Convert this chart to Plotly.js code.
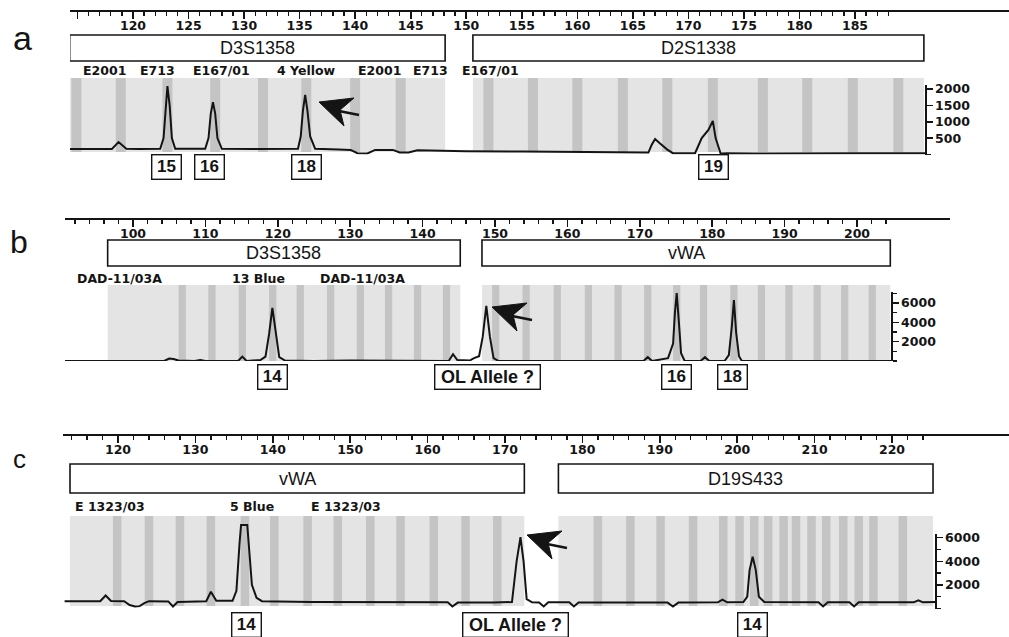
<!DOCTYPE html>
<html><head><meta charset="utf-8">
<script src="https://cdn.plot.ly/plotly-3.0.1.min.js"></script>
<style>html,body{margin:0;padding:0;background:#fff}#chart{width:1009px;height:637px}</style>
</head><body><div id="chart"></div>
<script>
// ================= DATA =================
// ---- Panel a ----
const aTraceBp  = [114.3,116.0,118.1,118.7,119.4,120.5,122.45,122.75,122.95,123.1,123.3,123.5,123.8,126.5,126.8,127.0,127.2,127.4,127.6,128.0,131.0,134.85,135.1,135.3,135.5,135.7,135.95,136.4,138.5,139.6,140.2,141.1,141.8,143.4,144.0,144.8,145.6,150.0,155.0,160.0,165.0,166.4,166.7,167.0,167.4,168.1,168.6,170.6,171.2,171.8,172.2,172.45,172.9,173.5,176.0,180.0,185.0,191.3];
const aTraceRfu = [170,165,170,380,175,170,175,500,1500,2090,1500,500,175,175,500,1250,1600,1250,500,175,165,175,550,1350,1820,1350,550,175,150,140,40,30,140,140,60,60,130,100,90,70,60,60,300,470,350,150,40,40,500,750,1025,500,30,40,30,40,40,40];
const aMarkers     = ['D3S1358','D2S1338'];
const aMarkerStart = [114.3,150.6];
const aMarkerEnd   = [148.1,191.2];
const aBins        = [114.9,118.9,123.1,127.4,131.7,135.6,140.0,144.1,152.0,156.0,160.0,164.1,168.1,172.2,176.7,180.7,184.8,188.9];
const aAlleleText  = ['15','16','18','19'];
const aAlleleBp    = [123.0,126.9,135.6,172.25];
const aSampleText  = ['E2001','E713','E167/01','4 Yellow','E2001','E713','E167/01'];
const aXTicks      = [115,120,125,130,135,140,145,150,155,160,165,170,175,180,185];
const aYTicks      = [500,1000,1500,2000];
const aYMinor      = [0];

// ---- Panel b ----
const bTraceBp  = [90.6,100.0,104.3,105.0,105.6,106.3,108.5,109.3,110.0,114.5,115.1,115.7,117.6,118.3,118.8,119.25,119.7,120.2,121.0,125.0,130.0,136.0,140.0,143.6,144.2,144.8,146.5,147.1,147.8,148.3,148.8,149.3,149.8,150.5,160.0,170.5,171.1,171.7,173.9,174.6,174.85,175.1,175.4,175.7,176.2,178.4,179.0,179.6,181.7,182.3,182.7,183.0,183.3,183.7,184.1,190.0,204.7];
const bTraceRfu = [0,0,0,250,200,50,0,100,0,0,450,0,100,450,2800,5500,2800,400,50,0,50,0,0,0,700,100,50,300,500,2500,5700,2500,300,0,0,0,400,0,300,1800,5000,7050,4000,800,0,0,400,0,0,600,3500,6320,3000,500,0,0,0];
const bMarkers     = ['D3S1358','vWA'];
const bMarkerStart = [96.5,148.2];
const bMarkerEnd   = [145.2,204.6];
const bBins        = [106.8,110.9,115.1,119.3,123.1,127.3,131.4,135.3,139.3,143.3,150.1,154.3,158.6,162.9,167.0,171.1,175.1,178.8,183.0,186.8,190.6,194.5,198.3,202.1];
const bAlleleText  = ['14','OL Allele ?','16','18'];
const bAlleleBp    = [119.25,148.9,175.1,182.8];
const bSampleText  = ['DAD-11/03A','13 Blue','DAD-11/03A'];
const bXTicks      = [90,100,110,120,130,140,150,160,170,180,190,200];
const bYTicks      = [2000,4000,6000];
const bYMinor      = [0,1000,3000,5000,7000];

// ---- Panel c ----
const cTraceBp  = [113.1,117.7,118.4,119.1,120.8,121.5,122.2,122.8,123.4,124.0,126.5,127.1,127.7,131.4,132.0,132.7,134.8,135.3,135.7,135.9,136.7,136.9,137.3,137.9,138.6,145.0,152.0,157.0,162.6,163.2,163.9,168.5,170.9,171.5,172.0,172.4,172.8,173.5,174.4,175.0,175.6,178.3,178.9,179.5,191.0,191.7,192.4,197.5,198.1,198.7,200.8,201.3,201.6,202.0,202.4,202.8,203.5,210.5,211.1,211.7,214.5,215.1,215.7,222.8,223.4,224.0,225.7];
const cTraceRfu = [620,620,1100,640,620,300,170,200,450,620,600,170,550,620,1420,650,650,1500,5500,7080,7080,5500,2000,900,620,560,560,520,520,170,500,500,550,4000,6050,4000,800,520,500,170,520,520,170,500,500,170,500,520,750,520,550,1000,3250,4390,3250,1000,550,520,170,520,520,170,520,520,700,520,550];
const cMarkers     = ['vWA','D19S433'];
const cMarkerStart = [113.8,176.9];
const cMarkerEnd   = [172.5,225.3];
const cBins        = [119.9,124.0,128.0,132.0,136.4,140.2,144.5,148.4,152.6,156.5,160.8,164.9,169.0,182.0,186.2,190.1,194.3,198.2,200.3,202.2,204.0,206.0,207.6,209.6,211.5,213.7,215.7,217.6,221.4];
const cAlleleText  = ['14','OL Allele ?','14'];
const cAlleleBp    = [136.6,171.4,202.0];
const cSampleText  = ['E 1323/03','5 Blue','E 1323/03'];
const cXTicks      = [120,130,140,150,160,170,180,190,200,210,220];
const cYTicks      = [2000,4000,6000];
const cYMinor      = [0,1000,3000,5000];

const panelLetters = ['a','b','c'];

// ================= LAYOUT GEOMETRY (pixels) =================
const W = 1009, H = 637;
const px2x = p => p / W;
const py2y = p => 1 - p / H;

const panels = [
  { letter:panelLetters[0], letterPx:[22,38], letterSize:34,
    bp:aTraceBp, rfu:aTraceRfu, markers:aMarkers, mStart:aMarkerStart, mEnd:aMarkerEnd, bins:aBins, binW:0.9,
    alleleText:aAlleleText, alleleBp:aAlleleBp, sampleText:aSampleText, samplePx:[104,157,221,306,379,430,490], samplePy:71,
    xTicks:aXTicks, minorStep:1, minorFrom:115, minorTo:188,
    refBp:120, refPx:133, pxPerBp:11.108, xDom:[70,1009], axisPy:10,
    zeroPy:154.5, pxPerUnit:0.03275, scaleTopPy:85, dataTopPy:70, yAxisPx:925, yTicks:aYTicks, yMinor:aYMinor,
    boxPy:[35,61], grayPy:[78,152], allelePy:167, arrowTip:[319,102] },
  { letter:panelLetters[1], letterPx:[19,242], letterSize:32,
    bp:bTraceBp, rfu:bTraceRfu, markers:bMarkers, mStart:bMarkerStart, mEnd:bMarkerEnd, bins:bBins, binW:1.0,
    alleleText:bAlleleText, alleleBp:bAlleleBp, sampleText:bSampleText, samplePx:[119,258,362], samplePy:278,
    xTicks:bXTicks, minorStep:2, minorFrom:92, minorTo:204,
    refBp:100, refPx:133, pxPerBp:7.24, xDom:[65,950], axisPy:218,
    zeroPy:361, pxPerUnit:0.00965, scaleTopPy:292, dataTopPy:275, yAxisPx:891, yTicks:bYTicks, yMinor:bYMinor,
    boxPy:[240,266], grayPy:[285,361], allelePy:377, arrowTip:[492,307] },
  { letter:panelLetters[2], letterPx:[19,459], letterSize:26,
    bp:cTraceBp, rfu:cTraceRfu, markers:cMarkers, mStart:cMarkerStart, mEnd:cMarkerEnd, bins:cBins, binW:1.1,
    alleleText:cAlleleText, alleleBp:cAlleleBp, sampleText:cSampleText, samplePx:[110,252,346], samplePy:506,
    xTicks:cXTicks, minorStep:2, minorFrom:114, minorTo:224,
    refBp:120, refPx:118, pxPerBp:7.74, xDom:[63,1009], axisPy:434,
    zeroPy:608.5, pxPerUnit:0.0118, scaleTopPy:534, dataTopPy:505, yAxisPx:935, yTicks:cYTicks, yMinor:cYMinor,
    boxPy:[464,493], grayPy:[516,606], allelePy:625, arrowTip:[527,535] }
];

const INK = '#141414';
const tickFont = {family:'DejaVu Sans', size:12.5, color:INK, weight:'bold'};
const data = [];
const shapes = [];
const annotations = [];
const layout = {
  width:W, height:H, margin:{l:0,r:0,t:0,b:0},
  paper_bgcolor:'#ffffff', plot_bgcolor:'rgba(0,0,0,0)',
  showlegend:false, hovermode:false
};

panels.forEach((p, i) => {
  const xid = i === 0 ? 'x' : 'x' + (i + 1);
  const yid = i === 0 ? 'y' : 'y' + (i + 1);
  const sid = 'y' + (i + 4);
  const xname = 'xaxis' + (i === 0 ? '' : i + 1);
  const yname = 'yaxis' + (i === 0 ? '' : i + 1);
  const sname = 'yaxis' + (i + 4);
  const bpAt = px => p.refBp + (px - p.refPx) / p.pxPerBp;

  const minorVals = [];
  for (let v = p.minorFrom; v <= p.minorTo + 1e-9; v += p.minorStep) minorVals.push(v);

  layout[xname] = {
    domain:[px2x(p.xDom[0]), px2x(p.xDom[1])], range:[bpAt(p.xDom[0]), bpAt(p.xDom[1])],
    anchor:'free', position:py2y(p.axisPy), side:'top',
    showline:true, linecolor:INK, linewidth:1.6, showgrid:false, zeroline:false,
    ticks:'inside', ticklen:7, tickwidth:1.6, tickcolor:INK,
    tickmode:'array', tickvals:p.xTicks, ticktext:p.xTicks.map(v => '<b>' + v + '</b>'),
    ticklabelposition:'inside', ticklabelstandoff:2, tickfont:tickFont,
    minor:{tickmode:'array', tickvals:minorVals, ticks:'inside', ticklen:4, tickwidth:1.3, tickcolor:INK, showgrid:false},
    fixedrange:true
  };
  layout[yname] = {
    domain:[py2y(p.zeroPy), py2y(p.dataTopPy)], range:[0, (p.zeroPy - p.dataTopPy) / p.pxPerUnit],
    anchor:xid, visible:false, fixedrange:true
  };
  layout[sname] = {
    domain:[py2y(p.zeroPy), py2y(p.scaleTopPy)], range:[0, (p.zeroPy - p.scaleTopPy) / p.pxPerUnit],
    anchor:'free', position:px2x(p.yAxisPx), side:'right',
    showline:true, linecolor:INK, linewidth:1.6, showgrid:false, zeroline:false,
    ticks:'outside', ticklen:6, tickwidth:1.5, tickcolor:INK,
    tickmode:'array', tickvals:p.yTicks, ticktext:p.yTicks.map(v => '<b>' + v + '</b>'), tickfont:tickFont,
    minor:{tickmode:'array', tickvals:p.yMinor, ticks:'outside', ticklen:4, tickwidth:1.3, tickcolor:INK, showgrid:false},
    fixedrange:true
  };

  // electropherogram trace
  data.push({type:'scatter', mode:'lines', x:p.bp, y:p.rfu, xaxis:xid, yaxis:yid,
    line:{color:INK, width:2, shape:'linear'}, hoverinfo:'skip'});
  // carrier trace for the visible RFU scale
  data.push({type:'scatter', mode:'lines', x:[null], y:[null], xaxis:xid, yaxis:sid, hoverinfo:'skip'});

  // marker ranges: light gray area, dark bins, name boxes
  p.markers.forEach((m, k) => {
    shapes.push({type:'rect', xref:xid, yref:'paper', layer:'below',
      x0:p.mStart[k], x1:p.mEnd[k], y0:py2y(p.grayPy[1]), y1:py2y(p.grayPy[0]),
      fillcolor:'#e4e4e4', line:{width:0}});
    shapes.push({type:'rect', xref:xid, yref:'paper', layer:'above',
      x0:p.mStart[k], x1:p.mEnd[k], y0:py2y(p.boxPy[1]), y1:py2y(p.boxPy[0]),
      fillcolor:'#ffffff', line:{width:1.6, color:INK}});
    annotations.push({xref:xid, yref:'paper', x:(p.mStart[k] + p.mEnd[k]) / 2, y:py2y((p.boxPy[0] + p.boxPy[1]) / 2),
      text:m, showarrow:false, xanchor:'center', yanchor:'middle',
      font:{family:'Liberation Sans, Arial', size:18, color:INK}});
  });
  p.bins.forEach(b => {
    shapes.push({type:'rect', xref:xid, yref:'paper', layer:'below',
      x0:b - p.binW / 2, x1:b + p.binW / 2, y0:py2y(p.grayPy[1]), y1:py2y(p.grayPy[0]),
      fillcolor:'#c4c4c4', line:{width:0}});
  });

  // allele call labels
  p.alleleText.forEach((t, k) => {
    const wide = t.length > 3;
    annotations.push({xref:xid, yref:'paper', x:p.alleleBp[k], y:py2y(p.allelePy),
      text:'<b>' + t + '</b>', showarrow:false, xanchor:'center', yanchor:'middle',
      width: wide ? 102 : 26, height:21, borderpad:1,
      bordercolor:INK, borderwidth:1.4, bgcolor:'#ffffff',
      font:{family:'Liberation Sans, Arial', size: wide ? 18 : 17, color:INK}});
  });

  // sample labels above the trace
  p.sampleText.forEach((t, k) => {
    annotations.push({xref:'paper', yref:'paper', x:px2x(p.samplePx[k]), y:py2y(p.samplePy),
      text:'<b>' + t + '</b>', showarrow:false, xanchor:'center', yanchor:'middle',
      font:{family:'DejaVu Sans', size:12.5, color:INK}});
  });

  // panel letter
  annotations.push({xref:'paper', yref:'paper', x:px2x(p.letterPx[0]), y:py2y(p.letterPx[1]),
    text:p.letter, showarrow:false, xanchor:'center', yanchor:'middle',
    font:{family:'Liberation Sans, Arial', size:p.letterSize, color:INK}});

  // pointing arrow (decoration)
  const [tx, ty] = p.arrowTip;
  const P = (dx, dy) => px2x(tx + dx) + ',' + py2y(ty + dy);
  shapes.push({type:'path', xref:'paper', yref:'paper', layer:'above',
    path:'M' + P(0,0) + ' L' + P(35,-4) + ' L' + P(21,8) + ' L' + P(25,24) + ' Z',
    fillcolor:INK, line:{color:INK, width:1}});
  shapes.push({type:'path', xref:'paper', yref:'paper', layer:'above',
    path:'M' + P(20,9) + ' L' + P(40,13),
    line:{color:INK, width:2.5}});
});

layout.shapes = shapes;
layout.annotations = annotations;

Plotly.newPlot('chart', data, layout, {staticPlot:true, displayModeBar:false});
</script>
</body></html>
